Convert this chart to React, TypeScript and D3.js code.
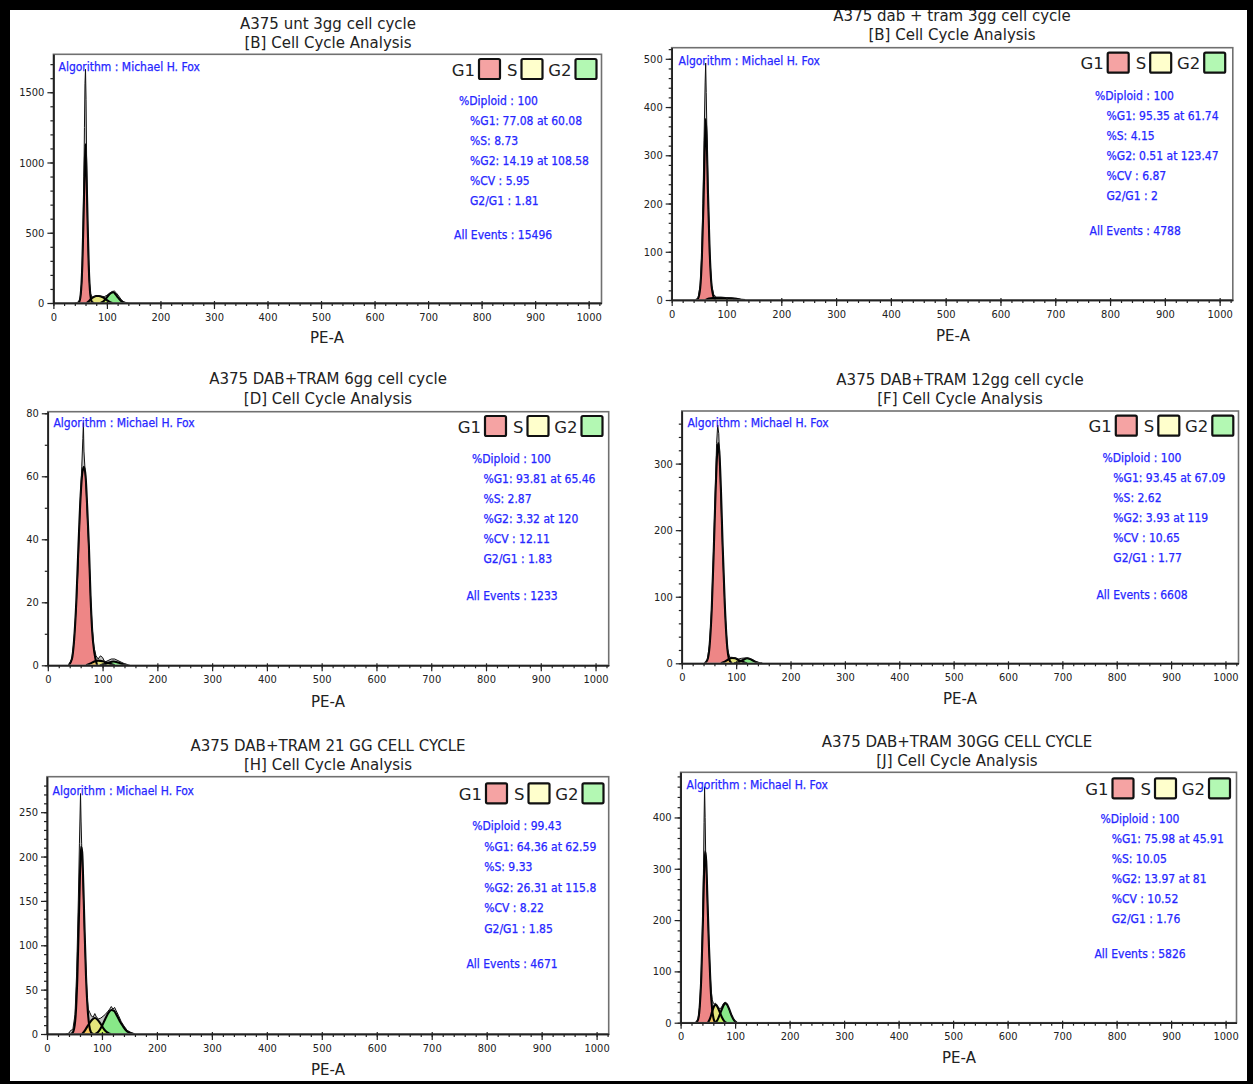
import * as d3 from 'd3';
import React, { useRef, useEffect } from 'react';

type Pt = [number, number];

// ---- panel text ----
const titles = [
  'A375 unt 3gg cell cycle',
  'A375 dab + tram 3gg cell cycle',
  'A375 DAB+TRAM 6gg cell cycle',
  'A375 DAB+TRAM 12gg cell cycle',
  'A375 DAB+TRAM 21 GG CELL CYCLE',
  'A375 DAB+TRAM 30GG CELL CYCLE',
];
const subtitles = [
  '[B] Cell Cycle Analysis',
  '[B] Cell Cycle Analysis',
  '[D] Cell Cycle Analysis',
  '[F] Cell Cycle Analysis',
  '[H] Cell Cycle Analysis',
  '[J] Cell Cycle Analysis',
];

// ---- fit statistics ----
const pctDiploid = [100, 100, 100, 100, 99.43, 100];
const pctG1 = [77.08, 95.35, 93.81, 93.45, 64.36, 75.98];
const g1Mean = [60.08, 61.74, 65.46, 67.09, 62.59, 45.91];
const pctS = [8.73, 4.15, 2.87, 2.62, 9.33, 10.05];
const pctG2 = [14.19, 0.51, 3.32, 3.93, 26.31, 13.97];
const g2Mean = [108.58, 123.47, 120, 119, 115.8, 81];
const pctCV = [5.95, 6.87, 12.11, 10.65, 8.22, 10.52];
const g2g1 = [1.81, 2, 1.83, 1.77, 1.85, 1.76];
const allEvents = [15496, 4788, 1233, 6608, 4671, 5826];

// ---- axis ticks ----
const xMajorStep = 100;
const xMinorStep = 20;
const yMajorStep = [500, 100, 20, 100, 50, 100];
const yMinorStep = [100, 20, 10, 20, 10, 20];
const yTop = [1770, 523, 80.5, 379, 290, 488];
const xTop = [1024, 1024, 1024, 1024, 1022, 1020];

// ---- histograms (PE-A channel, count) ----
const unt3Raw: Pt[] = [[40,0],[46,2],[50,30],[53,150],[55,420],[57,900],[58,1250],[59,1560],[60,1663],[61,1450],[62,1050],[63,700],[65,380],[67,160],[69,70],[72,42],[76,44],[80,50],[85,52],[90,48],[95,45],[100,55],[105,70],[110,82],[114,85],[118,70],[122,50],[126,28],[130,12],[134,4],[140,0]];
const unt3G1: Pt[] = [[44,0],[48,8],[51,60],[54,270],[56,560],[58,900],[60,1130],[62,900],[64,560],[66,270],[69,60],[72,8],[76,0]];
const unt3S: Pt[] = [[62,0],[66,12],[70,28],[75,42],[80,50],[85,50],[90,44],[95,34],[100,20],[105,8],[110,0]];
const unt3G2: Pt[] = [[88,0],[93,10],[98,30],[103,55],[108,72],[112,76],[116,62],[120,42],[125,20],[130,6],[136,0]];

const dt3Raw: Pt[] = [[44,0],[48,4],[52,30],[55,100],[57,200],[59,330],[61,450],[62,491],[63,430],[65,300],[67,190],[70,80],[73,30],[77,10],[82,6],[90,6],[100,5],[110,4],[120,2],[128,0]];
const dt3G1: Pt[] = [[44,0],[48,3],[52,25],[55,85],[58,200],[60,300],[62,375],[64,330],[66,230],[69,110],[72,40],[76,8],[80,0]];
const dt3S: Pt[] = [[62,0],[68,3],[75,4],[85,4],[95,4],[105,3.5],[115,3],[122,1.5],[126,0]];
const dt3G2: Pt[] = [[112,0],[118,0.6],[123,0.8],[128,0.6],[134,0]];

const dt6Raw: Pt[] = [[38,0],[44,2],[48,8],[52,19],[55,30],[58,45],[60,55],[62,63],[64,72],[65,77],[66,68],[68,62],[70,56],[72,48],[75,36],[78,22],[81,12],[84,6],[88,3],[92,2],[96,3],[100,2.5],[104,1],[110,1.5],[116,2],[122,2],[128,1.5],[134,1],[140,0.5],[150,0]];
const dt6G1: Pt[] = [[38,0],[44,2],[48,8],[52,20],[56,38],[60,54],[63,61],[66,63],[69,60],[72,50],[75,38],[78,22],[81,11],[85,4],[90,0]];
const dt6S: Pt[] = [[70,0],[78,0.6],[85,1.2],[92,1.5],[100,1.3],[108,0.8],[115,0.4],[122,0]];
const dt6G2: Pt[] = [[95,0],[105,0.4],[112,0.9],[120,1.2],[128,0.9],[136,0.4],[146,0]];

const dt12Raw: Pt[] = [[42,0],[47,5],[51,28],[55,85],[59,185],[62,270],[64,330],[66,358],[68,345],[70,300],[73,220],[76,150],[80,70],[84,22],[88,9],[92,9],[96,8.5],[100,7.5],[105,6.5],[110,7.5],[116,8],[121,8],[126,7],[132,4.5],[138,2],[145,0]];
const dt12G1: Pt[] = [[42,0],[47,5],[51,25],[55,80],[59,175],[62,255],[65,315],[67,331],[69,318],[72,260],[75,180],[79,90],[83,30],[87,6],[92,0]];
const dt12S: Pt[] = [[72,0],[80,3],[86,6],[92,8],[98,7.5],[104,5],[110,3],[116,1],[120,0]];
const dt12G2: Pt[] = [[96,0],[104,1.5],[110,4],[116,6.5],[120,7.5],[124,7],[130,4.5],[136,2],[142,0.5],[148,0]];

const dt21Raw: Pt[] = [[34,0],[40,1],[43,4],[47,5],[51,22],[54,70],[57,150],[59,215],[61,271],[62,240],[63,215],[65,180],[67,140],[69,100],[71,70],[73,42],[75,28],[78,24],[81,20],[84,19],[87,23],[90,19],[94,17],[98,18],[102,20],[106,22],[110,25],[114,28],[117,31],[120,28],[123,30],[126,26],[130,21],[135,14],[140,9],[146,4],[152,2],[160,0]];
const dt21G1: Pt[] = [[44,0],[48,3],[52,20],[55,60],[58,130],[60,180],[62,211],[64,205],[66,170],[68,125],[71,65],[74,28],[77,9],[80,2],[84,0]];
const dt21S: Pt[] = [[64,0],[70,5],[76,11],[82,16],[87,18],[92,16],[97,12],[102,7],[107,3],[112,1],[116,0]];
const dt21G2: Pt[] = [[88,0],[94,3],[100,9],[106,17],[112,24],[117,27],[122,26],[127,21],[132,15],[138,9],[144,4],[150,1.5],[158,0]];

const dt30Raw: Pt[] = [[28,0],[32,7],[35,32],[38,100],[40,180],[42,300],[43,390],[44,460],[45,400],[46,330],[48,280],[50,210],[52,150],[54,100],[56,65],[58,45],[60,38],[62,37],[64,38],[67,33],[70,29],[73,27],[76,32],[79,38],[82,40],[85,36],[88,28],[92,18],[96,9],[100,3],[104,0]];
const dt30G1: Pt[] = [[28,0],[32,6],[35,30],[38,90],[41,200],[43,290],[45,334],[47,315],[49,250],[52,150],[55,70],[58,25],[61,6],[64,0]];
const dt30S: Pt[] = [[50,0],[54,8],[58,22],[62,33],[65,35],[68,30],[72,20],[76,10],[80,3],[84,0]];
const dt30G2: Pt[] = [[64,0],[68,6],[72,16],[76,27],[80,36],[83,38],[86,34],[90,24],[94,13],[98,5],[103,0]];

const rawSets = [unt3Raw, dt3Raw, dt6Raw, dt12Raw, dt21Raw, dt30Raw];
const g1Sets = [unt3G1, dt3G1, dt6G1, dt12G1, dt21G1, dt30G1];
const sSets = [unt3S, dt3S, dt6S, dt12S, dt21S, dt30S];
const g2Sets = [unt3G2, dt3G2, dt6G2, dt12G2, dt21G2, dt30G2];

const legendNames = ['G1', 'S', 'G2'];

// page layout of each panel
const layouts = [
  { left: 53.4, top: 54.3, right: 601.5, bottom: 303, titleX: 328, titleY: 24, subY: 43, labelX: 327, labelY: 338, legendX: 479, legendY: 59, algX: 58.5, algY: 67, statX: 459, indentX: 470, statY: 101, step: 20, allX: 454, allY: 235 },
  { left: 671.7, top: 47.7, right: 1232.8, bottom: 300, titleX: 952, titleY: 16, subY: 35, labelX: 953, labelY: 336, legendX: 1107.7, legendY: 52.7, algX: 678.5, algY: 60.7, statX: 1095, indentX: 1106.5, statY: 95.7, step: 20, allX: 1089.5, allY: 231 },
  { left: 47.8, top: 411.7, right: 608.7, bottom: 665.3, titleX: 328, titleY: 379.3, subY: 399, labelX: 328, labelY: 701.7, legendX: 485, legendY: 416, algX: 53.4, algY: 423.3, statX: 472, indentX: 483.4, statY: 458.7, step: 20, allX: 466.4, allY: 596 },
  { left: 681.8, top: 411, right: 1238.5, bottom: 663.3, titleX: 960, titleY: 380, subY: 399, labelX: 960, labelY: 699.3, legendX: 1115.8, legendY: 415.7, algX: 687.4, algY: 423.3, statX: 1102.4, indentX: 1113.3, statY: 458.3, step: 20, allX: 1096.4, allY: 594.7 },
  { left: 47, top: 776.7, right: 608.7, bottom: 1034, titleX: 328, titleY: 746, subY: 765, labelX: 328, labelY: 1070, legendX: 486, legendY: 783.3, algX: 52.6, algY: 790.7, statX: 472.3, indentX: 484.2, statY: 826, step: 20.5, allX: 466.4, allY: 964 },
  { left: 680.6, top: 772.3, right: 1236.5, bottom: 1022.7, titleX: 957, titleY: 741.7, subY: 760.7, labelX: 959, labelY: 1058.3, legendX: 1112.5, legendY: 778.3, algX: 686.6, algY: 785, statX: 1100.4, indentX: 1111.7, statY: 819.3, step: 20, allX: 1094.4, allY: 954.3 },
];

const W = 1253;
const H = 1084;
const TITLE_FONT = "'DejaVu Sans', sans-serif";
const SMALL_FONT = "'DejaVu Sans Condensed', 'Liberation Sans', sans-serif";
const BLUE = '#2626ff';

function App() {
  const ref = useRef<SVGSVGElement>(null);

  useEffect(() => {
    const svg = d3.select(ref.current);
    svg.selectAll('*').remove();
    svg.append('rect').attr('width', W).attr('height', H).attr('fill', 'white');

    layouts.forEach((L, i) => {
      const x = d3.scaleLinear().domain([0, xTop[i]]).range([L.left, L.right]);
      const y = d3.scaleLinear().domain([0, yTop[i]]).range([L.bottom, L.top]);
      const g = svg.append('g');

      // titles
      g.append('text').attr('x', L.titleX).attr('y', L.titleY).text(titles[i])
        .attr('text-anchor', 'middle').attr('dominant-baseline', 'central')
        .style('font-family', TITLE_FONT).style('font-size', '15px').attr('fill', '#222');
      g.append('text').attr('x', L.titleX).attr('y', L.subY).text(subtitles[i])
        .attr('text-anchor', 'middle').attr('dominant-baseline', 'central')
        .style('font-family', TITLE_FONT).style('font-size', '15px').attr('fill', '#222');

      // clip to plot box
      const clipId = 'clip' + i;
      svg.append('clipPath').attr('id', clipId).append('rect')
        .attr('x', L.left).attr('y', L.top).attr('width', L.right - L.left).attr('height', L.bottom - L.top);
      const plot = g.append('g').attr('clip-path', `url(#${clipId})`);

      const line = d3.line<Pt>().x(d => x(d[0])).y(d => y(d[1]));
      const smoothArea = d3.area<Pt>().x(d => x(d[0])).y0(y(0)).y1(d => y(d[1])).curve(d3.curveMonotoneX);
      const smoothLine = d3.line<Pt>().x(d => x(d[0])).y(d => y(d[1])).curve(d3.curveMonotoneX);
      const rawArea = d3.area<Pt>().x(d => x(d[0])).y0(y(0)).y1(d => y(d[1]));

      plot.append('path').datum(rawSets[i]).attr('d', rawArea).attr('fill', '#c4c4c4');
      plot.append('path').datum(g1Sets[i]).attr('d', smoothArea).attr('fill', '#ee8686');
      plot.append('path').datum(g2Sets[i]).attr('d', smoothArea).attr('fill', '#88e888');
      plot.append('path').datum(sSets[i]).attr('d', smoothArea).attr('fill', '#ffff40').attr('fill-opacity', 0.55);
      [g1Sets[i], g2Sets[i], sSets[i]].forEach(s => {
        plot.append('path').datum(s).attr('d', smoothLine)
          .attr('fill', 'none').attr('stroke', '#000').attr('stroke-width', 2.1).attr('stroke-linejoin', 'round');
      });
      plot.append('path').datum(rawSets[i]).attr('d', line)
        .attr('fill', 'none').attr('stroke', '#111').attr('stroke-width', 1).attr('stroke-linejoin', 'round');

      // frame
      g.append('rect').attr('x', L.left).attr('y', L.top)
        .attr('width', L.right - L.left).attr('height', L.bottom - L.top)
        .attr('fill', 'none').attr('stroke', '#707070').attr('stroke-width', 1.6);

      const fmt = d3.format('d');

      // x axis
      const xMinor = g.append('g').attr('transform', `translate(0,${L.bottom})`)
        .call(d3.axisBottom(x).tickValues(d3.range(0, xTop[i], xMinorStep)).tickSize(3).tickSizeOuter(0).tickFormat(() => ''));
      const xMajor = g.append('g').attr('transform', `translate(0,${L.bottom})`)
        .call(d3.axisBottom(x).tickValues(d3.range(0, 1001, xMajorStep)).tickSize(6).tickSizeOuter(0).tickPadding(4).tickFormat(fmt));
      xMajor.selectAll('.tick line').attr('y1', -2);

      // y axis
      const yMinor = g.append('g').attr('transform', `translate(${L.left},0)`)
        .call(d3.axisLeft(y).tickValues(d3.range(0, yTop[i], yMinorStep[i])).tickSize(3).tickSizeOuter(0).tickFormat(() => ''));
      const yMajor = g.append('g').attr('transform', `translate(${L.left},0)`)
        .call(d3.axisLeft(y).tickValues(d3.range(0, yTop[i] + 0.001, yMajorStep[i])).tickSize(6).tickSizeOuter(0).tickPadding(3).tickFormat(fmt));

      [xMinor, xMajor, yMinor, yMajor].forEach(a => {
        a.select('.domain').attr('stroke', '#222').attr('stroke-width', 1.5);
        a.selectAll('.tick line').attr('stroke', '#222').attr('stroke-width', 1.2);
        a.selectAll('text').style('font-family', SMALL_FONT).style('font-size', '11px').attr('fill', '#222');
      });

      // x label
      g.append('text').attr('x', L.labelX).attr('y', L.labelY).text('PE-A')
        .attr('text-anchor', 'middle').attr('dominant-baseline', 'central')
        .style('font-family', TITLE_FONT).style('font-size', '15px').attr('fill', '#222');

      // legend
      const legendColors = ['#f5a3a3', '#ffffcc', '#b3f8b3'];
      const legendOffsets = [0, 42.5, 96.5];
      legendNames.forEach((name, k) => {
        const bx = L.legendX + legendOffsets[k];
        g.append('rect').attr('x', bx).attr('y', L.legendY).attr('width', 21).attr('height', 20).attr('rx', 1.5)
          .attr('fill', legendColors[k]).attr('stroke', '#111').attr('stroke-width', 2.2);
        g.append('text').attr('x', bx - 4).attr('y', L.legendY + 11).text(name)
          .attr('text-anchor', 'end').attr('dominant-baseline', 'central')
          .style('font-family', TITLE_FONT).style('font-size', '16.5px').attr('fill', '#222');
      });

      // blue stats
      const blue = (tx: number, ty: number, s: string) =>
        g.append('text').attr('x', tx).attr('y', ty).text(s).attr('dominant-baseline', 'central')
          .style('font-family', SMALL_FONT).style('font-size', '12px').attr('fill', BLUE)
          .attr('stroke', BLUE).attr('stroke-width', 0.25);
      blue(L.algX, L.algY, 'Algorithm : Michael H. Fox');
      blue(L.statX, L.statY, `%Diploid : ${pctDiploid[i]}`);
      blue(L.indentX, L.statY + L.step, `%G1: ${pctG1[i]} at ${g1Mean[i]}`);
      blue(L.indentX, L.statY + 2 * L.step, `%S: ${pctS[i]}`);
      blue(L.indentX, L.statY + 3 * L.step, `%G2: ${pctG2[i]} at ${g2Mean[i]}`);
      blue(L.indentX, L.statY + 4 * L.step, `%CV : ${pctCV[i]}`);
      blue(L.indentX, L.statY + 5 * L.step, `G2/G1 : ${g2g1[i]}`);
      blue(L.allX, L.allY, `All Events : ${allEvents[i]}`);
    });

    // outer black border
    svg.append('rect').attr('x', 0).attr('y', 0).attr('width', W).attr('height', 10).attr('fill', '#000');
    svg.append('rect').attr('x', 0).attr('y', 0).attr('width', 10).attr('height', H).attr('fill', '#000');
    svg.append('rect').attr('x', 1247).attr('y', 0).attr('width', W - 1247).attr('height', H).attr('fill', '#000');
    svg.append('rect').attr('x', 0).attr('y', 1081).attr('width', W).attr('height', H - 1081).attr('fill', '#000');
  }, []);

  return (
    <svg ref={ref} width={W} height={H} style={{ position: 'absolute', left: 0, top: 0 }} />
  );
}

export default App;
